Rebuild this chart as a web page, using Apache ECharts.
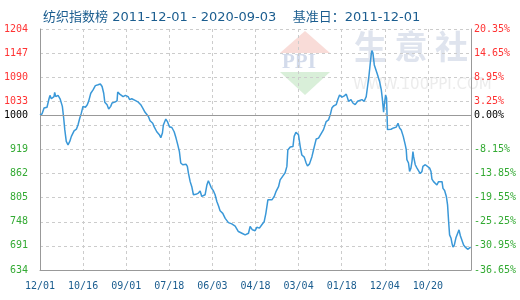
<!DOCTYPE html>
<html>
<head>
<meta charset="utf-8">
<script src="https://cdn.jsdelivr.net/npm/echarts@6/dist/echarts.min.js"></script>
<style>html,body{margin:0;padding:0;background:#fff}#c{width:520px;height:300px}</style>
</head>
<body>
<div id="c"></div>
<script>
// Days since 2011-12-01 and index values (base 1000 on 2011-12-01)
const days = [0,15,30,52,67,74,84,104,109,117,134,149,158,166,176,184,195,208,221,233,253,270,282,295,307,319,337,351,362,377,394,411,431,448,461,473,481,498,510,525,535,555,572,577,592,617,634,654,666,681,706,730,748,763,780,805,817,837,847,867,886,897,909,916,934,946,961,979,996,1010,1023,1035,1045,1060,1072,1085,1094,1102,1115,1127,1139,1157,1176,1189,1201,1213,1226,1239,1250,1258,1271,1288,1300,1313,1325,1337,1357,1375,1399,1424,1449,1473,1499,1523,1548,1560,1577,1597,1610,1629,1647,1664,1677,1692,1704,1722,1739,1753,1771,1783,1800,1820,1833,1840,1858,1878,1887,1900,1919,1932,1944,1962,1976,1986,2001,2019,2036,2051,2068,2080,2105,2125,2142,2155,2167,2179,2199,2212,2224,2242,2259,2274,2291,2309,2323,2340,2358,2372,2390,2407,2422,2432,2442,2452,2459,2464,2472,2482,2496,2506,2521,2534,2541,2551,2558,2566,2573,2580,2593,2606,2625,2645,2658,2670,2682,2697,2712,2719,2724,2736,2744,2754,2762,2769,2774,2786,2799,2811,2823,2836,2843,2861,2873,2893,2903,2910,2922,2935,2947,2959,2972,2985,2992,3004,3017,3026,3034,3041,3052,3059,3066,3076,3089,3101,3111,3121,3133,3145,3158,3175,3187,3197];
const values = [1000,1003,1017,1019,1039,1047,1039,1044,1054,1044,1047,1039,1037,1021,993,966,938,930,938,950,963,967,977,993,1005,1021,1019,1025,1034,1052,1060,1070,1072,1074,1068,1052,1031,1025,1015,1021,1029,1031,1034,1055,1050,1044,1047,1044,1037,1039,1035,1031,1025,1017,1007,997,987,981,973,961,954,947,958,977,991,985,973,971,961,946,930,914,887,883,879,884,879,863,843,831,812,813,816,821,808,804,812,835,845,839,829,821,812,796,786,774,768,756,746,743,738,725,721,717,721,737,729,727,735,733,741,748,768,800,804,800,808,820,831,847,855,864,879,918,925,926,950,960,954,926,906,901,887,880,885,902,925,944,946,950,966,985,989,1001,1017,1022,1025,1038,1048,1043,1046,1050,1033,1037,1029,1025,1033,1029,1037,1033,1044,1068,1092,1123,1143,1153,1147,1119,1115,1096,1080,1060,1041,1007,1029,1048,1041,966,962,967,970,972,981,970,965,950,930,919,895,887,867,875,891,914,902,883,875,872,862,867,879,883,879,875,867,849,843,839,835,843,845,843,827,822,808,788,748,717,709,697,688,693,711,715,729,715,711,693,688,683,687,688];
const xTickLabels = ['12/01','10/16','09/01','07/18','06/03','04/18','03/04','01/18','12/04','10/20'];
const leftTickLabels = ['634','691','748','805','862','919','','1033','1090','1147','1204'];
const rightTickLabels = ['-36.65%','-30.95%','-25.25%','-19.55%','-13.85%','-8.15%','','3.25%','8.95%','14.65%','20.35%'];
const yMin = 634, yMax = 1204, yStep = 57, base = 1000;
const xStep = 320, xMax = 3200;

const RED = '#ff3333', GREEN = '#33aa33', BLUE = '#1b5d8f';
const mono = '"DejaVu Sans Mono", "Liberation Mono", monospace';
const tickIdx = v => Math.round((v - yMin) / yStep);
const colorFor = v => (v > base ? RED : (v < base ? GREEN : '#000'));

const chart = echarts.init(document.getElementById('c'), null, {renderer: 'canvas'});
chart.setOption({
  animation: false,
  backgroundColor: '#fff',
  title: {
    text: '纺织指数榜 2011-12-01 - 2020-09-03    基准日：2011-12-01',
    left: 38, top: 6,
    textStyle: {color: BLUE, fontSize: 13, fontWeight: 'normal', fontFamily: '"DejaVu Sans", "Noto Sans CJK SC", sans-serif'}
  },
  graphic: [
    {type: 'polygon', z: -10, shape: {points: [[280, 53], [305, 31], [330, 53]]}, style: {fill: '#f9dcd8'}},
    {type: 'polygon', z: -10, shape: {points: [[280, 72], [330, 72], [305, 95]]}, style: {fill: '#d9efd9'}},
    {type: 'text', z: -10, left: 282, top: 52, style: {text: 'PPI', fill: '#d3dbeb', font: 'bold 21px "Liberation Serif", serif'}},
    {type: 'text', z: -10, left: 354, top: 30, style: {text: '生 意 社', fill: '#dfe4ee', font: 'bold 33px "Noto Sans CJK SC", sans-serif'}},
    {type: 'text', z: -10, left: 353, top: 78, style: {text: 'WWW.100PPI.COM', fill: '#ececec', font: '15px "DejaVu Sans", sans-serif'}}
  ],
  grid: {left: 40, right: 49, top: 29, bottom: 30, containLabel: false},
  xAxis: {
    type: 'value', min: 0, max: xMax, interval: xStep,
    axisLine: {show: true, lineStyle: {color: '#999'}},
    axisTick: {show: false},
    splitLine: {show: true, lineStyle: {color: '#cccccc', type: [3, 3]}},
    axisLabel: {
      margin: 11, color: BLUE, fontSize: 10, fontFamily: mono,
      formatter: v => xTickLabels[Math.round(v / xStep)] || ''
    }
  },
  yAxis: [
    {
      type: 'value', min: yMin, max: yMax, interval: yStep, position: 'left',
      axisLine: {show: true, lineStyle: {color: '#999'}},
      axisTick: {show: false},
      splitLine: {show: true, lineStyle: {color: '#cccccc', type: [3, 3]}},
      axisLabel: {
        margin: 12, fontSize: 10, fontFamily: mono,
        formatter: v => leftTickLabels[tickIdx(v)] || '',
        color: v => colorFor(v)
      }
    },
    {
      type: 'value', min: yMin, max: yMax, interval: yStep, position: 'right',
      axisLine: {show: true, lineStyle: {color: '#999'}},
      axisTick: {show: false},
      splitLine: {show: false},
      axisLabel: {
        margin: 3, fontSize: 10, fontFamily: mono,
        formatter: v => rightTickLabels[tickIdx(v)] || '',
        color: v => colorFor(v)
      }
    }
  ],
  series: [{
    type: 'line',
    data: days.map((d, i) => [d, values[i]]),
    showSymbol: false,
    symbol: 'none',
    lineStyle: {color: '#3a98d8', width: 1.5},
    z: 3,
    markLine: {
      silent: true,
      symbol: ['none', 'none'],
      lineStyle: {color: '#999', type: 'solid', width: 1},
      data: [
        {yAxis: base, label: {show: true, position: 'start', distance: 12, formatter: '1000', color: '#000', fontSize: 10, fontFamily: mono}},
        {yAxis: base, label: {show: true, position: 'end', distance: 3, formatter: '0.00%', color: '#000', fontSize: 10, fontFamily: mono}}
      ]
    }
  }]
});
</script>
</body>
</html>
